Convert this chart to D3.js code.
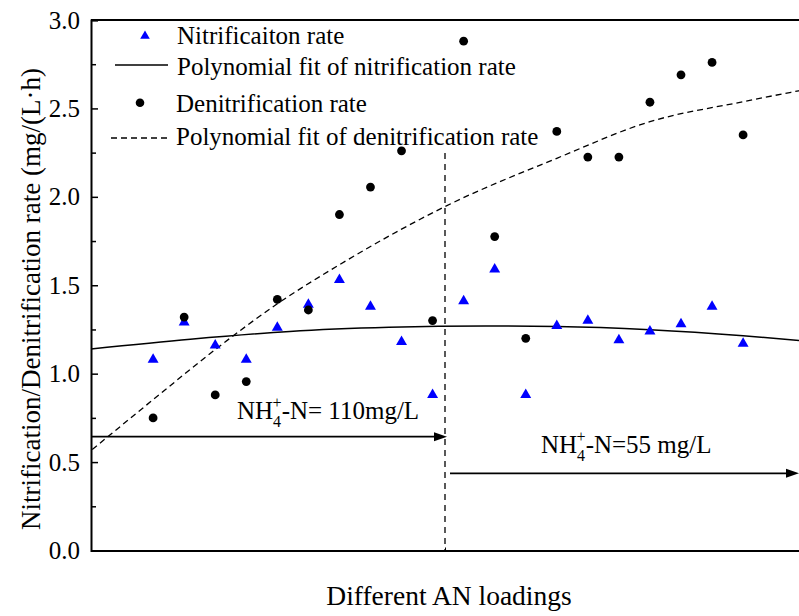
<!DOCTYPE html>
<html><head><meta charset="utf-8">
<script src="https://cdn.jsdelivr.net/npm/d3@7"></script>
<style>
body{margin:0;background:#fff}
svg{display:block}
svg text{font-family:"Liberation Serif","Times New Roman",serif !important;fill:#000}
</style>
</head><body>
<svg id="chart" width="799" height="616" font-family="Liberation Serif, serif"></svg>
<script>
// ---- data ----
const loadings = [1,2,3,4,5,6,7,8,9,10,11,12,13,14,15,16,17,18,19,20];
const nitrification = [1.08,1.29,1.16,1.08,1.26,1.39,1.53,1.38,1.18,0.88,1.41,1.59,0.88,1.27,1.30,1.19,1.24,1.28,1.38,1.17];
const denitrification = [0.75,1.32,0.88,0.955,1.42,1.36,1.90,2.055,2.26,1.30,2.88,1.775,1.20,2.37,2.225,2.225,2.535,2.69,2.76,2.35];
// fitted curves
const nitrFitX = [-1,2.2,5.4,8.6,11.7,14,17,20,21.8];
const nitrFitY = [1.14,1.195,1.239,1.262,1.27,1.267,1.249,1.215,1.188];
const denitFitX = [-0.96,1,3,5,7,9,10.4,14,17,20,21.8];
const denitFitY = [0.571,0.853,1.136,1.395,1.616,1.817,1.945,2.218,2.425,2.538,2.6];
const dividerAt = 10.4;
const yTicks = [0,0.5,1.0,1.5,2.0,2.5,3.0];
const yMinorTicks = [0.25,0.75,1.25,1.75,2.25,2.75];
const legendLabels = ["Nitrificaiton rate","Polynomial fit of nitrification rate","Denitrification rate","Polynomial fit of denitrification rate"];
const xTitle = "Different AN loadings";
const yTitle = "Nitrification/Denitrification rate (mg/(L\u00B7h)";

// ---- layout ----
const FONT = '"Liberation Serif","Times New Roman",serif';
const svg = d3.select("#chart");
const L = 91, R = 799, T = 20, B = 550.5;
const x = d3.scaleLinear().domain([-1, 21.8]).range([L, R]);
const y = d3.scaleLinear().domain([0, 3]).range([B, T]);

// fit lines
const line = d3.line().x(d => x(d[0])).y(d => y(d[1])).curve(d3.curveMonotoneX);
svg.append("path").datum(nitrFitX.map((v,i)=>[v,nitrFitY[i]]))
  .attr("d", line).attr("fill","none").attr("stroke","#000").attr("stroke-width",1.5);
svg.append("path").datum(denitFitX.map((v,i)=>[v,denitFitY[i]]))
  .attr("d", line).attr("fill","none").attr("stroke","#000").attr("stroke-width",1.3)
  .attr("stroke-dasharray","6,4");

// divider
svg.append("line").attr("x1",x(dividerAt)).attr("x2",x(dividerAt))
  .attr("y1",153).attr("y2",B).attr("stroke","#000").attr("stroke-width",1.3)
  .attr("stroke-dasharray","6,5");

// arrows
function arrow(x1, x2, yy){
  svg.append("line").attr("x1",x1).attr("x2",x2-10).attr("y1",yy).attr("y2",yy)
    .attr("stroke","#000").attr("stroke-width",1.8);
  svg.append("path").attr("d",`M${x2},${yy}L${x2-13},${yy-4.5}L${x2-13},${yy+4.5}Z`).attr("fill","#000");
}
arrow(L, x(dividerAt)+2, 436.7);
arrow(x(dividerAt)+5, R, 473.3);

// annotations
function nhLabel(px, py, rest){
  const t = svg.append("text").attr("x",px).attr("y",py).attr("font-size",25).attr("font-family",FONT);
  t.append("tspan").text("NH");
  t.append("tspan").attr("font-size",16).attr("dy",8).text("4");
  t.append("tspan").attr("font-size",16).attr("dx",-8.5).attr("dy",-19).text("+");
  t.append("tspan").attr("dy",11).text(rest);
}
nhLabel(237, 419, "-N= 110mg/L");
nhLabel(541, 453, "-N=55 mg/L");

// points
const tri = d3.symbol(d3.symbolTriangle, 52);
svg.append("g").selectAll("path").data(loadings).join("path")
  .attr("d", tri).attr("transform",(d,i)=>`translate(${x(d)},${y(nitrification[i])})`)
  .attr("fill","#0000ff");
svg.append("g").selectAll("circle").data(loadings).join("circle")
  .attr("cx", d => x(d)).attr("cy",(d,i)=>y(denitrification[i])).attr("r",4.4).attr("fill","#000");

// axes
const yAxis = d3.axisLeft(y).tickValues(yTicks).tickFormat(d3.format(".1f")).tickSize(-7).tickPadding(11);
const gy = svg.append("g").attr("transform",`translate(${L},0)`).call(yAxis).attr("font-family",FONT);
gy.select(".domain").attr("stroke-width",2);
gy.selectAll(".tick line").attr("stroke-width",1.5);
gy.selectAll(".tick text").attr("font-size",25).attr("font-family",FONT);
const gym = svg.append("g").attr("transform",`translate(${L},0)`)
  .call(d3.axisLeft(y).tickValues(yMinorTicks).tickFormat("").tickSize(-5).tickSizeOuter(0));
gym.select(".domain").remove();
gym.selectAll(".tick line").attr("stroke-width",1.5);

const xAxis = d3.axisBottom(x).tickValues([dividerAt]).tickFormat("").tickSize(-3).tickSizeOuter(0);
const gx = svg.append("g").attr("transform",`translate(0,${B})`).call(xAxis);
gx.select(".domain").attr("stroke-width",2);
// top frame
svg.append("line").attr("x1",L).attr("x2",R).attr("y1",T).attr("y2",T).attr("stroke","#000").attr("stroke-width",2.2);

// titles
svg.append("text").attr("x",449).attr("y",605).attr("text-anchor","middle").attr("font-size",27.5).attr("font-family",FONT).text(xTitle);
svg.append("text").attr("transform","translate(40,299) rotate(-90)").attr("text-anchor","middle").attr("font-size",27).attr("font-family",FONT).text(yTitle);

// legend
const lg = svg.append("g").attr("font-family",FONT);
lg.append("path").attr("d", d3.symbol(d3.symbolTriangle, 40)).attr("transform","translate(145,36)").attr("fill","#0000ff");
lg.append("line").attr("x1",115).attr("x2",168).attr("y1",65).attr("y2",65).attr("stroke","#000").attr("stroke-width",1.5);
lg.append("circle").attr("cx",140).attr("cy",102.7).attr("r",4.3).attr("fill","#000");
lg.append("line").attr("x1",111).attr("x2",168).attr("y1",138).attr("y2",138).attr("stroke","#000").attr("stroke-width",1.3).attr("stroke-dasharray","6,4");
const lgX = [177,177,176,176], lgY = [43.5,75,112,145];
legendLabels.forEach((s,i)=>lg.append("text").attr("x",lgX[i]).attr("y",lgY[i]).attr("font-size",25).attr("font-family",FONT).text(s));
</script>
</body></html>
